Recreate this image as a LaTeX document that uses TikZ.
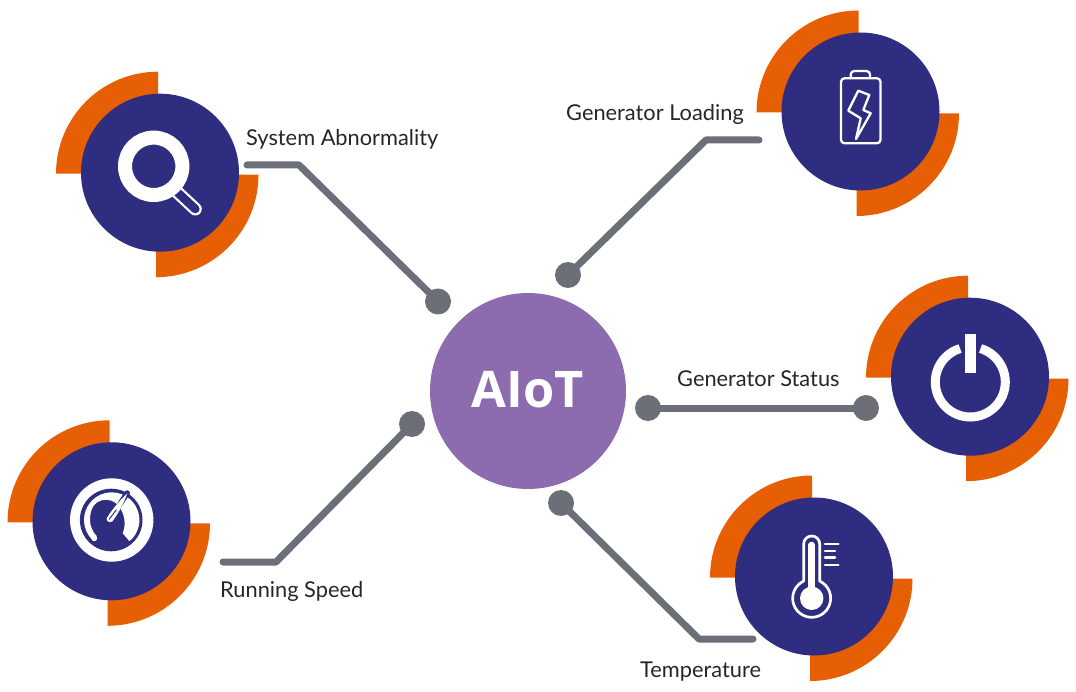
\documentclass[tikz,border=0pt]{standalone}
\usepackage{fontspec}
\setmainfont{Lato}
\newfontfamily\titlefont{Open Sans}
\definecolor{navy}{HTML}{2E2D7F}
\definecolor{ring}{HTML}{E65F04}
\definecolor{violet}{HTML}{8C6BAE}
\definecolor{wire}{HTML}{6C6E78}
\tikzset{
  hub/.style={circle,fill=violet,minimum size=196pt,inner sep=0pt},
  disc/.style={circle,fill=navy,minimum size=158pt,inner sep=0pt},
  dot/.style={circle,fill=wire,minimum size=26pt,inner sep=0pt},
  wireline/.style={draw=wire,line width=7pt,line cap=round,line join=round},
  label/.style={anchor=base west,inner sep=0pt,text=black!85,font=\fontsize{21.8}{26}\selectfont},
  ringpart/.style={fill=ring},
  thin icon/.style={draw=white,line width=2.3pt,line join=round,line cap=round},
}
\newcommand\badge[3]{%
  \fill[ringpart] (#2-104,#3+1) arc[start angle=180,end angle=90,radius=102pt] -- (#2-2,#3+1) -- cycle;
  \fill[ringpart] (#2+98.5,#3+2) arc[start angle=0,end angle=-90,radius=102.5pt] -- (#2-4,#3+2) -- cycle;
  \node[disc] (#1) at (#2,#3) {};
}
\begin{document}
\begin{tikzpicture}[x=1pt,y=-1pt]
\useasboundingbox (0,0) rectangle (1076,692);

% badges
\badge{search}{160}{172.7}
\badge{gauge}{111.5}{521.3}
\badge{battery}{860.5}{111.5}
\badge{power}{970}{376.7}
\badge{thermo}{814}{576.5}

% magnifier
\begin{scope}[shift={(160,172.7)}]
  \draw[white,line width=13pt,line cap=round] (16.7,19) -- (35.3,36.3);
  \draw[navy,line width=8.6pt,line cap=round] (16.7,19) -- (35.3,36.3);
  \draw[white,line width=14pt,fill=navy] (-6.3,-6.4) circle[radius=28.7pt];
\end{scope}

% gauge
\begin{scope}[shift={(111.7,520)}]
  \fill[white] (0,0) circle[radius=41.7pt];
  \fill[navy] (-0.5,0) circle[radius=31.3pt];
  \fill[white,line join=round] (226.5:27.7pt) arc[start angle=226.5,end angle=-50,radius=27.7pt]
     -- (11,13.3) .. controls (14,6) and (14,-5) .. (7,-14)
     .. controls (0,-24) and (-22,-24) .. (-21.7,0)
     .. controls (-21.7,6) and (-19,12) .. (-15,16) -- cycle;
  \fill[white] (226.5:27.7pt) ++(1.6,-1.9) circle[radius=3pt];
  \draw[navy,line width=5.5pt,line cap=round] (-2,0) -- (15.5,-27);
  \fill[white] (-5,-1.5) .. controls (-3,-6) and (8,-20) .. (15.5,-26.5)
     .. controls (12,-16) and (5,-4) .. (0.5,1.5)
     .. controls (-2,3) and (-6,1) .. (-5,-1.5) -- cycle;
  \draw[navy,line width=1pt,line cap=round] (-2.5,-0.8) -- (4.5,-10);
\end{scope}

% battery
\begin{scope}[shift={(860.5,111.5)}]
  \draw[thin icon,rounded corners=3.5pt] (-19.5,-33.2) rectangle (20,31.8);
  \draw[thin icon,rounded corners=3.5pt] (-9.8,-33.2) -- (-9.8,-40.5) -- (9.5,-40.5) -- (9.5,-33.2);
  \draw[thin icon] (-2.2,-20.8) -- (8.8,-16.5) -- (2.8,-1.5) -- (10.2,1.8) -- (-4.5,27.5)
     -- (0.2,6.8) -- (-12.2,-0.8) -- cycle;
\end{scope}

% power
\begin{scope}[shift={(970,376.7)}]
  \draw[white,line width=9pt] (0.3,5.3) ++(73:35pt) arc[start angle=73,end angle=-253,radius=35pt];
  \fill[white] (-4.7,-42.7) rectangle (5.6,-3.4);
\end{scope}

% thermometer
\begin{scope}[shift={(814,576.5)}]
  \draw[thin icon,line width=2.7pt] (-10.3,-32.5) arc[start angle=180,end angle=0,radius=8pt]
     -- (5.7,4.6) arc[start angle=65,end angle=-245,radius=19pt] -- cycle;
  \draw[white,line width=6.6pt,line cap=round] (-2.3,-31.5) -- (-2.3,21.8);
  \fill[white] (-2.3,21.8) circle[radius=11.7pt];
  \draw[thin icon,line width=2.8pt] (11,-32.5) -- (24.3,-32.5);
  \draw[thin icon,line width=2.8pt] (11,-25.5) -- (21,-25.5);
  \draw[thin icon,line width=2.8pt] (11,-18.8) -- (21,-18.8);
  \draw[thin icon,line width=2.8pt] (11,-11.5) -- (24.3,-11.5);
\end{scope}

% hub and connector ends
\node[hub] (aiot) at (528,391) {};
\node[anchor=base,inner sep=0pt,text=white,font=\titlefont\bfseries\fontsize{50.5}{58}\selectfont] (aiotlabel) at (528,407) {AIoT};

\node[dot] (d1) at (438,301.5) {};
\node[dot] (d2) at (568,275) {};
\node[dot] (d3a) at (648,408) {};
\node[dot] (d3b) at (866,408) {};
\node[dot] (d4) at (412,424) {};
\node[dot] (d5) at (561,503) {};

\coordinate (w1a) at (247,165);
\coordinate (w1b) at (299,165);
\coordinate (w2a) at (759,140);
\coordinate (w2b) at (706,140);
\coordinate (w4a) at (223,562);
\coordinate (w4b) at (276,562);
\coordinate (w5a) at (753,639);
\coordinate (w5b) at (699,639);

\draw[wireline] (w1a) -- (w1b) -- (d1.center);
\draw[wireline] (w2a) -- (w2b) -- (d2.center);
\draw[wireline] (d3a.center) -- (d3b.center);
\draw[wireline] (w4a) -- (w4b) -- (d4.center);
\draw[wireline] (w5a) -- (w5b) -- (d5.center);

% labels
\node[label] (l1) at (246,146) {System Abnormality};
\node[label] (l2) at (566,121) {Generator Loading};
\node[label] (l3) at (677,386) {Generator Status};
\node[label] (l4) at (220,597) {Running Speed};
\node[label] (l5) at (640,677) {Temperature};
\end{tikzpicture}
\end{document}
